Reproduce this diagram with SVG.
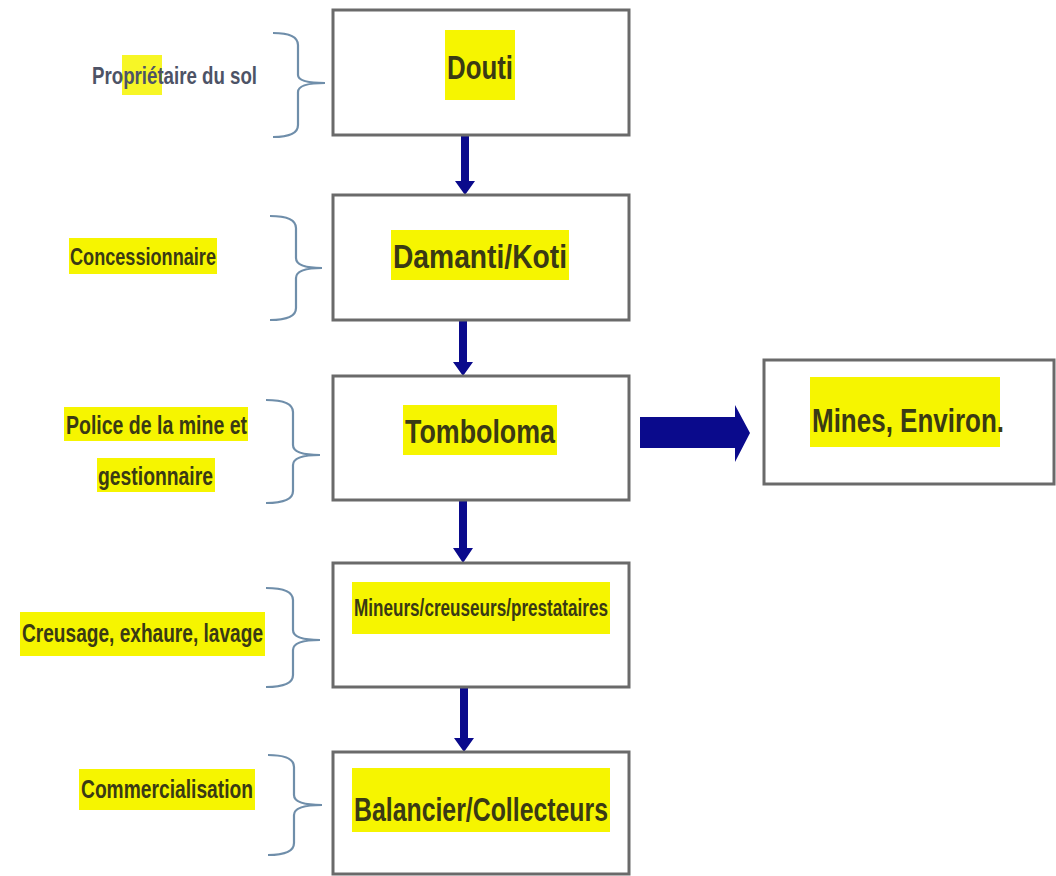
<svg xmlns="http://www.w3.org/2000/svg" width="1056" height="876" viewBox="0 0 1056 876">
<style>
.box{fill:#fff;stroke:#6a6a6a;stroke-width:3}
.hl{fill:#f6f500}
.t{font-family:"Liberation Sans",Arial,sans-serif;font-weight:bold;fill:#3a3a14;text-anchor:start}
.brace{fill:none;stroke:#6f8eaa;stroke-width:2.2}
.arr{fill:#0a0a8c}
</style>
<rect width="1056" height="876" fill="#fff"/>
<g id="connectors">
<path class="arr" d="M461 135 H469 V181 H475 L465 195 L455 181 H461 Z"/>
<path class="arr" d="M459 320 H467 V362 H473 L463 376 L453 362 H459 Z"/>
<path class="arr" d="M459 500 H467 V548 H473 L463 563 L453 548 H459 Z"/>
<path class="arr" d="M460 687 H468 V738 H474 L464 752 L454 738 H460 Z"/>
<path class="arr" d="M640 417 H735 V405 L750 433 L735 462 V448 H640 Z"/>
</g>
<g id="braces">
<path class="brace" d="M273 33 Q298 33 298 45 V75 Q298 83 325 83 Q298 83 298 92 V125 Q298 137 273 137"/>
<path class="brace" d="M270 216 Q296 216 296 228 V258 Q296 268 322 268 Q296 268 296 278 V308 Q296 320 270 320"/>
<path class="brace" d="M266 400 Q293 400 293 412 V445 Q293 455 320 455 Q293 455 293 465 V491 Q293 503 266 503"/>
<path class="brace" d="M266 588 Q293 588 293 600 V630 Q293 640 320 640 Q293 640 293 650 V675 Q293 687 266 687"/>
<path class="brace" d="M268 755 Q294 755 294 767 V795 Q294 805 322 805 Q294 805 294 815 V843 Q294 855 268 855"/>
</g>
<g id="node-douti">
<rect class="box" x="333" y="10" width="296" height="125"/>
<rect class="hl" x="445" y="30" width="70" height="70"/>
<text class="t" x="447" y="79" font-size="34" textLength="66" lengthAdjust="spacingAndGlyphs">Douti</text>
</g>
<g id="node-damanti">
<rect class="box" x="333" y="195" width="296" height="125"/>
<rect class="hl" x="391" y="230" width="178" height="50"/>
<text class="t" x="393" y="268" font-size="34" textLength="174" lengthAdjust="spacingAndGlyphs">Damanti/Koti</text>
</g>
<g id="node-tomboloma">
<rect class="box" x="333" y="376" width="296" height="124"/>
<rect class="hl" x="403" y="405" width="154" height="50"/>
<text class="t" x="405" y="443" font-size="34" textLength="150" lengthAdjust="spacingAndGlyphs">Tomboloma</text>
</g>
<g id="node-mineurs">
<rect class="box" x="333" y="563" width="296" height="124"/>
<rect class="hl" x="352" y="582" width="258" height="52"/>
<text class="t" x="354" y="616" font-size="23" textLength="254" lengthAdjust="spacingAndGlyphs">Mineurs/creuseurs/prestataires</text>
</g>
<g id="node-balancier">
<rect class="box" x="333" y="752" width="296" height="122"/>
<rect class="hl" x="352" y="768" width="258" height="64"/>
<text class="t" x="354" y="821" font-size="34" textLength="254" lengthAdjust="spacingAndGlyphs">Balancier/Collecteurs</text>
</g>
<g id="node-mines">
<rect class="box" x="764" y="360" width="290" height="124"/>
<rect class="hl" x="810" y="377" width="190" height="70"/>
<text class="t" x="812" y="432" font-size="34" textLength="192" lengthAdjust="spacingAndGlyphs">Mines, Environ.</text>
</g>
<g id="label-proprietaire">
<rect class="hl" x="122" y="55" width="40" height="40" opacity="0.85"/>
<text class="t" x="92" y="84" font-size="24" style="fill:#4d5366" textLength="165" lengthAdjust="spacingAndGlyphs">Propriétaire du sol</text>
</g>
<g id="label-concessionnaire">
<rect class="hl" x="69" y="238" width="148" height="36"/>
<text class="t" x="70" y="265" font-size="24" textLength="146" lengthAdjust="spacingAndGlyphs">Concessionnaire</text>
</g>
<g id="label-police">
<rect class="hl" x="64" y="407" width="184" height="34"/>
<rect class="hl" x="97" y="458" width="118" height="34"/>
<text class="t" x="66" y="434" font-size="25" textLength="181" lengthAdjust="spacingAndGlyphs">Police de la mine et</text>
<text class="t" x="98" y="485" font-size="25" textLength="115" lengthAdjust="spacingAndGlyphs">gestionnaire</text>
</g>
<g id="label-creusage">
<rect class="hl" x="20" y="612" width="245" height="44"/>
<text class="t" x="22" y="642" font-size="26" textLength="241" lengthAdjust="spacingAndGlyphs">Creusage, exhaure, lavage</text>
</g>
<g id="label-commercialisation">
<rect class="hl" x="79" y="769" width="176" height="41"/>
<text class="t" x="81" y="798" font-size="25" textLength="172" lengthAdjust="spacingAndGlyphs">Commercialisation</text>
</g>
</svg>
